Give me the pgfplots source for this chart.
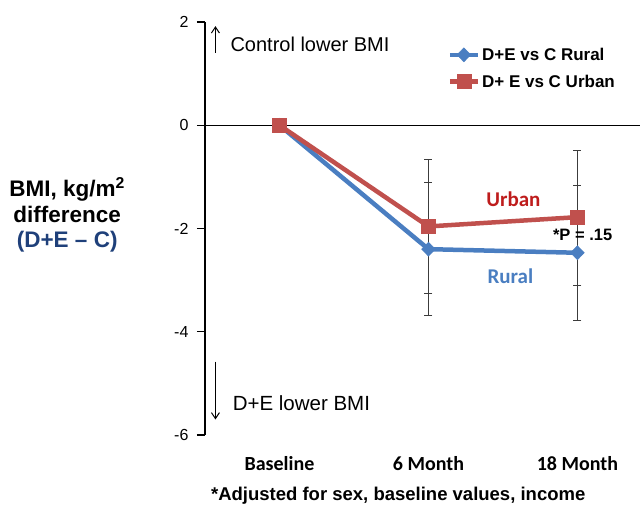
\documentclass[border=0pt]{standalone}
\usepackage{pgfplots}
\pgfplotsset{compat=1.18}
\usepackage{fontspec}
\setmainfont{Liberation Sans}
\newfontfamily\carlito{Carlito}
\usetikzlibrary{arrows.meta}
\definecolor{rural}{RGB}{74,126,193}
\definecolor{urban}{RGB}{192,80,77}
\definecolor{urbantext}{RGB}{190,28,28}
\definecolor{navy}{RGB}{31,64,122}
\definecolor{ebar}{RGB}{60,60,60}

\begin{document}
\begin{tikzpicture}
\path[use as bounding box] (-205pt,-73pt) rectangle (439pt,435pt);
\begin{axis}[
  scale only axis, width=435pt, height=413pt,
  xmin=-0.5, xmax=2.42, ymin=-6, ymax=2,
  clip=false,
  axis x line*=bottom, axis y line*=left,
  x axis line style={draw=none},
  y axis line style={line width=1.3pt, black},
  xtick={0,1,2}, xticklabels={Baseline,6 Month,18 Month},
  xtick style={draw=none},
  xticklabel style={font=\carlito\bfseries\fontsize{20}{22}\selectfont, yshift=-10pt},
  ytick={-6,-4,-2,0,2}, yticklabels={-6,-4,-2,0,2},
  yticklabel style={font=\fontsize{16}{18}\selectfont, xshift=-5pt},
  tick align=outside, major tick length=8pt,
  ytick style={line width=1.3pt, black},
  legend style={at={(rel axis cs:0.555,0.945)}, anchor=north west, draw=none, fill=none,
    font=\bfseries\fontsize{17}{19}\selectfont, row sep=9pt, inner sep=1pt},
  legend cell align=left,
  legend image code/.code={\draw[mark repeat=2,mark phase=2,#1] plot coordinates {(0pt,0pt) (14pt,0pt) (28pt,0pt)};},
]
\draw[line width=1.3pt, black] (axis cs:-0.5,0) -- (axis cs:2.42,0);

% error bars (drawn behind the lines)
\addplot[forget plot, draw=none, no marks, error bars/.cd, y dir=both, y explicit,
  error bar style={draw=ebar, line width=1pt, solid},
  error mark options={rotate=90, mark size=4pt, draw=ebar, line width=1pt}]
  coordinates {(1,-2.40) +- (0,1.29) (2,-2.47) +- (0,1.31)};
\addplot[forget plot, draw=none, no marks, error bars/.cd, y dir=both, y explicit,
  error bar style={draw=ebar, line width=1pt, solid},
  error mark options={rotate=90, mark size=4pt, draw=ebar, line width=1pt}]
  coordinates {(1,-1.96) +- (0,1.30) (2,-1.79) +- (0,1.31)};

\addplot[rural, line width=4.5pt, mark=diamond*, mark size=7pt,
  mark options={solid, line width=0.5pt, fill=rural, draw=rural, xscale=1.3}]
  coordinates {(0,0) (1,-2.40) (2,-2.47)};
\addlegendentry{D+E vs C Rural}
\addplot[urban, line width=4.5pt, mark=square*, mark size=7pt,
  mark options={solid, line width=0.5pt, fill=urban, draw=urban}]
  coordinates {(0,0) (1,-1.96) (2,-1.78)};
\addlegendentry{D+ E vs C Urban}

\draw[line width=1pt, -{Straight Barb[length=6pt,width=8pt]}] (axis cs:-0.43,1.40) -- (axis cs:-0.43,1.92);
\draw[line width=1pt, -{Straight Barb[length=6pt,width=8pt]}] (axis cs:-0.43,-4.58) -- (axis cs:-0.43,-5.70);
\node[anchor=west, font=\fontsize{20}{22}\selectfont, inner sep=0pt] at (axis cs:-0.33,1.57) {Control lower BMI};
\node[anchor=west, font=\fontsize{20.5}{22}\selectfont, inner sep=0pt] at (axis cs:-0.315,-5.39) {D+E lower BMI};

\node[urbantext, font=\carlito\bfseries\fontsize{21}{23}\selectfont] at (axis cs:1.57,-1.44) {Urban};
\node[rural, font=\carlito\bfseries\fontsize{21}{23}\selectfont] at (axis cs:1.55,-2.92) {Rural};
\node[font=\bfseries\fontsize{16.5}{18}\selectfont] at (axis cs:2.035,-2.13) {*P = .15};

\node[align=center, font=\bfseries\fontsize{22.5}{25.5}\selectfont] at (axis cs:-1.425,-1.74)
  {BMI, kg/m\textsuperscript{2}\\difference\\\textcolor{navy}{(D+E -- C)}};

\node[font=\bfseries\fontsize{18.5}{20}\selectfont] at (axis cs:0.797,-7.17) {*Adjusted for sex, baseline values, income};
\end{axis}
\end{tikzpicture}
\end{document}
